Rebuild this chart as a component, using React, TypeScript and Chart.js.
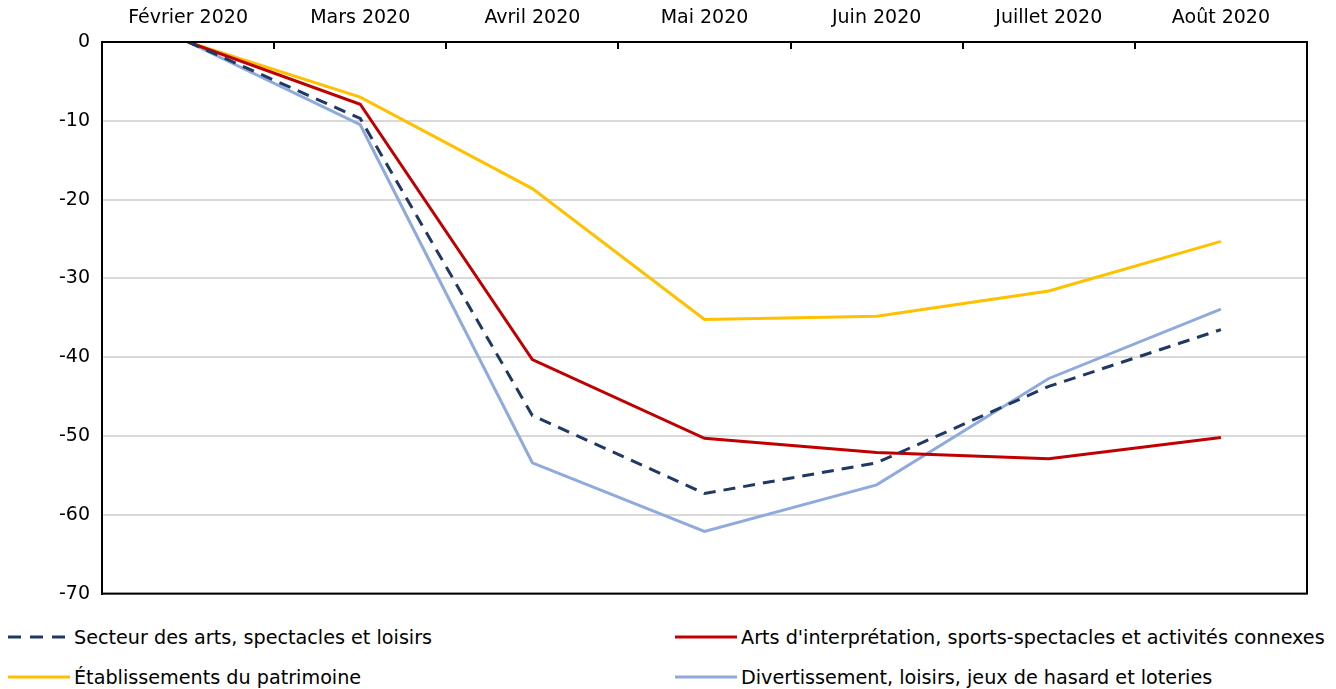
import React, { useEffect, useRef } from "react";
import { Chart, registerables } from "chart.js";

Chart.register(...registerables);

const categories = ["Février 2020", "Mars 2020", "Avril 2020", "Mai 2020", "Juin 2020", "Juillet 2020", "Août 2020"];
const secteur = [0, -9.7, -47.4, -57.3, -53.4, -43.7, -36.5];
const artsInterpretation = [0, -7.9, -40.3, -50.3, -52.1, -52.9, -50.2];
const patrimoine = [0, -7.0, -18.6, -35.2, -34.8, -31.6, -25.3];
const divertissement = [0, -10.5, -53.4, -62.1, -56.2, -42.7, -33.9];

const seriesLabels = [
  "Secteur des arts, spectacles et loisirs",
  "Arts d'interprétation, sports-spectacles et activités connexes",
  "Établissements du patrimoine",
  "Divertissement, loisirs, jeux de hasard et loteries",
];
const colors = ["#203864", "#c00000", "#ffc000", "#8faadc"];

const FONT = "'DejaVu Sans', Verdana, sans-serif";

const framePlugin = {
  id: "frame",
  afterDraw(chart: any) {
    const { ctx, chartArea } = chart;
    ctx.save();
    ctx.strokeStyle = "#000";
    ctx.lineWidth = 2;
    ctx.strokeRect(chartArea.left, chartArea.top, chartArea.right - chartArea.left, chartArea.bottom - chartArea.top);
    ctx.restore();
  },
};

function LegendItem({ label, color, dashed, left, top }: any) {
  return (
    <div style={{ position: "absolute", left, top, display: "flex", alignItems: "center", height: 26 }}>
      <svg width={66} height={10} style={{ display: "block" }}>
        <line
          x1={2}
          y1={5}
          x2={64}
          y2={5}
          stroke={color}
          strokeWidth={3}
          strokeDasharray={dashed ? "13 9" : undefined}
        />
      </svg>
      <span style={{ fontFamily: FONT, fontSize: 19.2, color: "#000", marginLeft: 2, whiteSpace: "nowrap" }}>{label}</span>
    </div>
  );
}

export default function App() {
  const ref = useRef<HTMLCanvasElement | null>(null);
  useEffect(() => {
    if (!ref.current) return;
    const data = [secteur, artsInterpretation, patrimoine, divertissement];
    const chart = new Chart(ref.current, {
      type: "line",
      data: {
        labels: categories,
        datasets: data.map((d, i) => ({
          label: seriesLabels[i],
          data: d,
          borderColor: colors[i],
          backgroundColor: colors[i],
          borderWidth: 3,
          borderDash: i === 0 ? [12, 8] : [],
          pointRadius: 0,
          tension: 0,
          fill: false,
        })),
      },
      options: {
        animation: false,
        responsive: false,
        devicePixelRatio: 1,
        layout: { padding: { left: 0, right: 29, top: 0, bottom: 0 } },
        plugins: { legend: { display: false }, tooltip: { enabled: false } },
        scales: {
          x: {
            position: "top",
            offset: true,
            grid: {
              offset: true,
              drawOnChartArea: false,
              drawTicks: true,
              tickLength: -7,
              color: "#000",
              lineWidth: 2,
            },
            border: { display: true, color: "#000", width: 2 },
            ticks: { color: "#000", font: { family: FONT, size: 19 }, padding: 20 },
            afterFit: (s: any) => {
              s.height = 42;
            },
          },
          y: {
            min: -70,
            max: 0,
            ticks: { stepSize: 10, color: "#000", font: { family: FONT, size: 19 }, padding: 12 },
            grid: { color: "#d9d9d9", lineWidth: 2, drawTicks: false },
            border: { display: true, color: "#000", width: 2 },
            afterFit: (s: any) => {
              s.width = 102;
            },
          },
        },
      },
      plugins: [framePlugin],
    });
    return () => chart.destroy();
  }, []);

  return (
    <div style={{ position: "fixed", left: 0, top: 0, width: 1336, height: 689, background: "#fff" }}>
      <canvas ref={ref} width={1336} height={617} style={{ position: "absolute", left: 0, top: 0 }} />
      <LegendItem label={seriesLabels[0]} color={colors[0]} dashed left={6} top={624} />
      <LegendItem label={seriesLabels[1]} color={colors[1]} left={673} top={624} />
      <LegendItem label={seriesLabels[2]} color={colors[2]} left={6} top={664} />
      <LegendItem label={seriesLabels[3]} color={colors[3]} left={673} top={664} />
    </div>
  );
}
